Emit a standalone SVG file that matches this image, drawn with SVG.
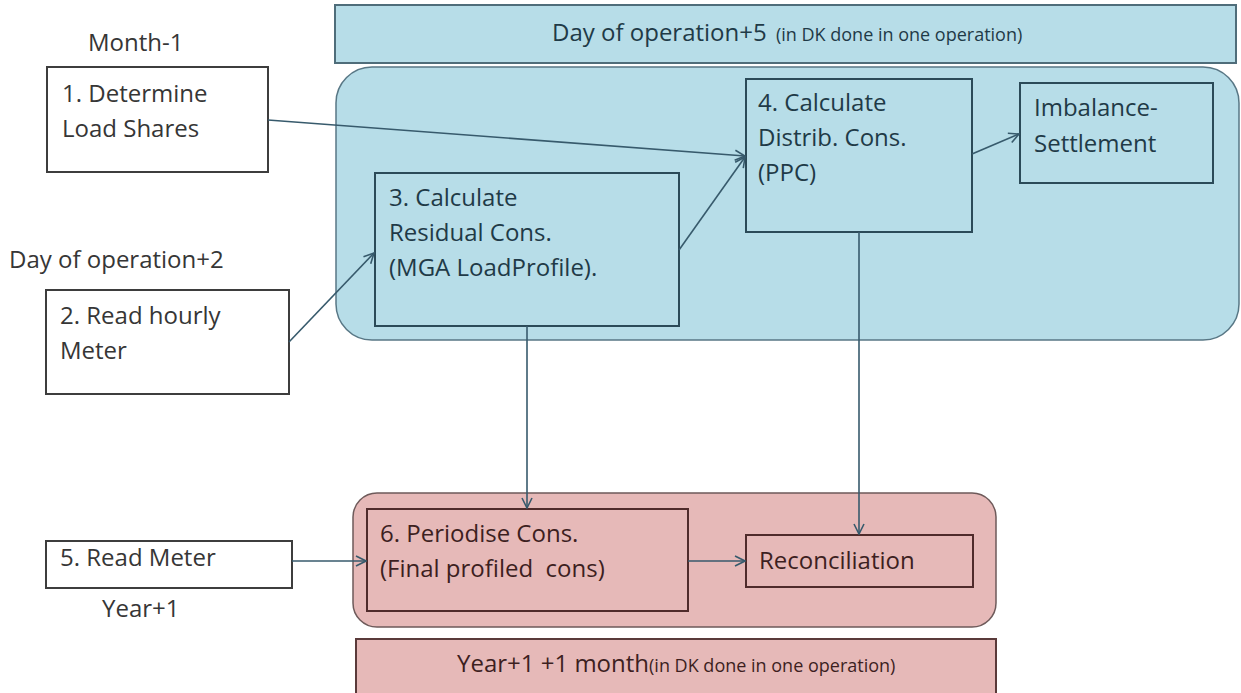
<svg xmlns="http://www.w3.org/2000/svg" width="1241" height="693" viewBox="0 0 1241 693">
<defs>
<marker id="arr" viewBox="0 0 12 12" refX="11" refY="6" markerWidth="12" markerHeight="12" markerUnits="userSpaceOnUse" orient="auto">
<path d="M1,1 L11,6 L1,11" fill="none" stroke="#375a6c" stroke-width="1.6"/>
</marker>
<style>
text{font-family:"Open Sans","Liberation Sans",sans-serif;font-size:24px;fill:#363636}
.blue text,text.b{fill:#1f3a47}
.pink text,text.p{fill:#3d1f1f}
.small{font-size:18px}
.wbox{fill:#ffffff;stroke:#3d3d3d;stroke-width:2}
.bbox{fill:#b7dde8;stroke:#2b4a58;stroke-width:2}
.pbox{fill:#e6b9b8;stroke:#4f2b2b;stroke-width:2}
.bcont{fill:#b7dde8;stroke:#587785;stroke-width:1.5}
.pcont{fill:#e6b9b8;stroke:#6e5a5a;stroke-width:1.5}
.conn line,.conn path{stroke:#375a6c;stroke-width:1.6;fill:none;marker-end:url(#arr)}
</style>
</defs>
<rect width="1241" height="693" fill="#ffffff"/>

<g id="bar-top">
<rect x="335" y="5" width="901" height="58" fill="#b7dde8" stroke="#4f6d7a" stroke-width="2"/>
<text x="552" y="41" class="b">Day of operation+5 <tspan class="small" dx="3">(in DK done in one operation)</tspan></text>
</g>

<g id="container-blue">
<rect x="336" y="67" width="903" height="273" rx="36" ry="36" class="bcont"/>
</g>

<g id="container-pink">
<rect x="353" y="493" width="643" height="134" rx="24" ry="24" class="pcont"/>
</g>

<g id="bar-bottom">
<rect x="356" y="639" width="640" height="60" fill="#e6b9b8" stroke="#5a3a3a" stroke-width="2"/>
<text x="457" y="672" class="p">Year+1 +1 month<tspan class="small">(in DK done in one operation)</tspan></text>
</g>

<g id="label-month">
<text x="88" y="51">Month-1</text>
</g>
<g id="label-day2">
<text x="9" y="268">Day of operation+2</text>
</g>
<g id="label-year">
<text x="102" y="617">Year+1</text>
</g>

<g id="node1">
<rect x="47" y="67" width="221" height="105" class="wbox"/>
<text x="62" y="102">1. Determine</text>
<text x="62" y="137">Load Shares</text>
</g>

<g id="node2">
<rect x="46" y="290" width="243" height="104" class="wbox"/>
<text x="60" y="324">2. Read hourly</text>
<text x="60" y="359">Meter</text>
</g>

<g id="node3" class="blue">
<rect x="375" y="173" width="304" height="153" class="bbox"/>
<text x="389" y="206">3. Calculate</text>
<text x="389" y="241">Residual Cons.</text>
<text x="389" y="276">(MGA LoadProfile).</text>
</g>

<g id="node4" class="blue">
<rect x="746" y="79" width="226" height="153" class="bbox"/>
<text x="758" y="111">4. Calculate</text>
<text x="758" y="146">Distrib. Cons.</text>
<text x="758" y="181">(PPC)</text>
</g>

<g id="node-imbalance" class="blue">
<rect x="1020" y="83" width="193" height="100" class="bbox"/>
<text x="1034" y="116">Imbalance-</text>
<text x="1034" y="152">Settlement</text>
</g>

<g id="node5">
<rect x="46" y="541" width="246" height="47" class="wbox"/>
<text x="60" y="566">5. Read Meter</text>
</g>

<g id="node6" class="pink">
<rect x="367" y="509" width="321" height="102" class="pbox"/>
<text x="380" y="542">6. Periodise Cons.</text>
<text x="380" y="577" xml:space="preserve">(Final profiled  cons)</text>
</g>

<g id="node-reconciliation" class="pink">
<rect x="746" y="535" width="227" height="52" class="pbox"/>
<text x="759" y="569">Reconciliation</text>
</g>

<g id="connectors" class="conn">
<line x1="268" y1="120" x2="745" y2="156"/>
<line x1="289" y1="342" x2="374" y2="253"/>
<line x1="679" y1="250" x2="745" y2="157"/>
<line x1="972" y1="154" x2="1019" y2="134"/>
<line x1="527" y1="326" x2="527" y2="508"/>
<line x1="859" y1="232" x2="859" y2="534"/>
<line x1="292" y1="561" x2="366" y2="561"/>
<line x1="688" y1="561" x2="745" y2="561"/>
</g>
</svg>
